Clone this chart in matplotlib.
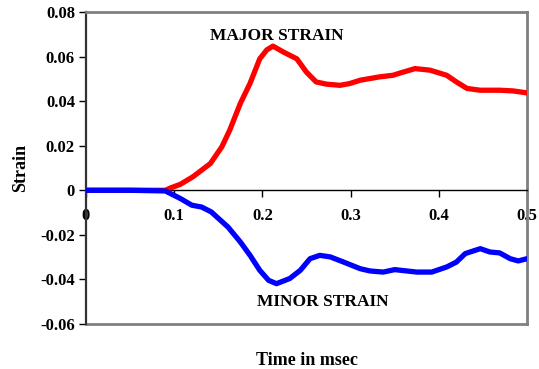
import matplotlib
matplotlib.use("Agg")
import matplotlib.pyplot as plt

# Major strain (red)
major_t = [0.0, 0.05, 0.09, 0.095, 0.107, 0.121, 0.141, 0.154, 0.163, 0.175, 0.186,
           0.197, 0.205, 0.212, 0.224, 0.239, 0.25, 0.261, 0.273, 0.288, 0.299,
           0.311, 0.333, 0.348, 0.356, 0.373, 0.39, 0.409, 0.42, 0.432, 0.447,
           0.469, 0.484, 0.5]
major_v = [0.0, 0.0, 0.0, 0.0009, 0.0027, 0.006, 0.012, 0.0195, 0.027, 0.039, 0.048,
           0.059, 0.063, 0.0647, 0.062, 0.059, 0.053, 0.0486, 0.0476, 0.0471, 0.0479,
           0.0494, 0.0509, 0.0516, 0.0526, 0.0546, 0.0539, 0.0516, 0.0486, 0.0457, 0.0449,
           0.0449, 0.0446, 0.0437]

# Minor strain (blue)
minor_t = [0.0, 0.05, 0.09, 0.107, 0.12, 0.131, 0.142, 0.161, 0.175, 0.186, 0.197,
           0.207, 0.216, 0.231, 0.243, 0.254, 0.265, 0.277, 0.292, 0.311, 0.322,
           0.337, 0.35, 0.375, 0.392, 0.409, 0.42, 0.43, 0.447, 0.458, 0.469,
           0.481, 0.49, 0.5]
minor_v = [0.0, 0.0, -0.0003, -0.0037, -0.0067, -0.0075, -0.0097, -0.0165, -0.0232, -0.0292, -0.0359,
           -0.0404, -0.0419, -0.0396, -0.0359, -0.0307, -0.0292, -0.0299, -0.0322, -0.0352, -0.0362,
           -0.0367, -0.0356, -0.0367, -0.0367, -0.0344, -0.0322, -0.0284, -0.0262, -0.0277, -0.0281,
           -0.0307, -0.0317, -0.0307]

x_ticks = [0, 0.1, 0.2, 0.3, 0.4, 0.5]
x_labels = ["0", "0.1", "0.2", "0.3", "0.4", "0.5"]
y_ticks = [-0.06, -0.04, -0.02, 0, 0.02, 0.04, 0.06, 0.08]
y_labels = ["-0.06", "-0.04", "-0.02", "0", "0.02", "0.04", "0.06", "0.08"]

plt.rcParams['font.family'] = ['Liberation Serif', 'DejaVu Serif']
plt.rcParams['font.weight'] = 'bold'

fig = plt.figure(figsize=(5.39, 3.69), dpi=100)
ax = fig.add_axes([86/539, 1-324/369, (527-86)/539, (324-12)/369])

ax.plot(major_t, major_v, color='#ff0000', lw=3.8, solid_capstyle='round',
        solid_joinstyle='round', zorder=3)
ax.plot(minor_t, minor_v, color='#0000ff', lw=3.8, solid_capstyle='round',
        solid_joinstyle='round', zorder=3)

ax.set_xlim(0, 0.5)
ax.set_ylim(-0.06, 0.08)

ax.spines['bottom'].set_position(('data', 0))
ax.spines['bottom'].set_color('black')
ax.spines['bottom'].set_linewidth(1.0)
ax.spines['left'].set_color('#333333')
ax.spines['left'].set_linewidth(1.6)
for s in ['top', 'right']:
    ax.spines[s].set_color('#808080')
    ax.spines[s].set_linewidth(2.0)
ax.axhline(-0.06, color='#808080', lw=2.0, clip_on=False, zorder=2)

ax.set_xticks(x_ticks)
ax.set_xticklabels(x_labels, fontsize=12, fontweight='bold')
ax.set_yticks(y_ticks)
ax.set_yticklabels(y_labels, fontsize=12, fontweight='bold')
ax.tick_params(axis='x', direction='out', length=5, width=1, pad=8)
ax.tick_params(axis='y', direction='out', length=5, width=1, pad=3)

ax.set_ylabel('Strain', fontsize=13, fontweight='bold', labelpad=8)
ax.set_xlabel('Time in msec', fontsize=13, fontweight='bold')
ax.xaxis.set_label_coords(0.5, -0.09)

ax.text(0.2166, 0.0692, 'MAJOR STRAIN', fontsize=12.5, fontweight='bold', ha='center', va='center')
ax.text(0.268, -0.0503, 'MINOR STRAIN', fontsize=12.5, fontweight='bold', ha='center', va='center')

fig.savefig('out.png', dpi=100)
